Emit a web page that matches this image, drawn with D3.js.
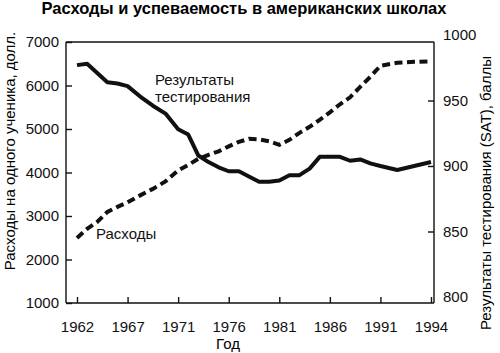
<!DOCTYPE html>
<html>
<head>
<meta charset="utf-8">
<script src="https://cdn.jsdelivr.net/npm/d3@7"></script>
<style>
	body { margin: 0; background: #fff; }
	svg { display: block; font-family: "Liberation Sans", Arial, sans-serif; }
	.axis text { font-size: 15px; fill: #111; }
	.axis path, .axis line { stroke: #111; stroke-width: 1.4; }
	.line { fill: none; stroke: #111; stroke-width: 4; stroke-linejoin: round; }
</style>
</head>
<body>
<div id="chart"></div>
<script>
// years and tick labels
const years = d3.range(1962, 1995);
const tickYears = [1962, 1967, 1971, 1976, 1981, 1986, 1991, 1994];

// spending per pupil, dollars (left axis)
const spending = [2496, 2703, 2864, 3094, 3209, 3313, 3474, 3623, 3796, 4050,
	4175, 4314, 4405, 4486, 4601, 4705, 4774, 4762, 4716, 4636,
	4751, 4912, 5050, 5211, 5384, 5568, 5729, 5970, 6200, 6453,
	6522, 6545, 6556];

// SAT scores (right axis)
const sat = [977, 978, 971, 964, 963, 961, 953, 946, 940, 928,
	924, 908, 903, 899, 896, 896, 892, 888, 888, 889,
	893, 893, 898, 907, 907, 907, 904, 905, 902, 900,
	897, 900, 903];

const leftTicks = [1000, 2000, 3000, 4000, 5000, 6000, 7000];
const rightTicks = [800, 850, 900, 950, 1000];

const width = 500, height = 353;
const plot = { left: 66, right: 434, top: 42, bottom: 303 };

const svg = d3.select('#chart').append('svg')
	.attr('width', width)
	.attr('height', height);

// ticks are evenly spaced on the original, whatever the year gap
const tickPos = d3.scalePoint().domain(tickYears).range([77, 431]);
const x = d3.scaleLinear()
	.domain(tickYears)
	.range(tickYears.map(d => tickPos(d)));

const yLeft = d3.scaleLinear().domain([1000, 7000]).range([plot.bottom, plot.top]);
const yRight = d3.scaleLinear().domain([800, 1000]).range([297, 35]);

// frame top
svg.append('line')
	.attr('x1', plot.left).attr('x2', plot.right)
	.attr('y1', plot.top).attr('y2', plot.top)
	.attr('stroke', '#111').attr('stroke-width', 1.4);

svg.append('g')
	.attr('class', 'axis x')
	.attr('transform', `translate(0, ${plot.bottom})`)
	.call(d3.axisBottom(x).tickValues(tickYears).tickFormat(d3.format('d')).tickSize(-6).tickPadding(18))
	.call(g => g.select('.domain').attr('d', `M${plot.left},0H${plot.right}`));

svg.append('g')
	.attr('class', 'axis yl')
	.attr('transform', `translate(${plot.left}, 0)`)
	.call(d3.axisLeft(yLeft).tickValues(leftTicks).tickFormat(d3.format('d')).tickSize(-6).tickPadding(7))
	.call(g => g.select('.domain').attr('d', `M0,${plot.top}V${plot.bottom}`));

svg.append('g')
	.attr('class', 'axis yr')
	.attr('transform', `translate(${plot.right}, 0)`)
	.call(d3.axisRight(yRight).tickValues(rightTicks).tickFormat(d3.format('d')).tickSize(-6).tickPadding(9))
	.call(g => g.select('.domain').attr('d', `M0,${plot.top}V${plot.bottom}`))
	.call(g => g.selectAll('.tick').filter(d => d === 800 || d === 1000).select('line').remove());

const lineLeft = d3.line()
	.x((d, i) => x(years[i]))
	.y(d => yLeft(d));
const lineRight = d3.line()
	.x((d, i) => x(years[i]))
	.y(d => yRight(d));

svg.append('path')
	.attr('class', 'line')
	.datum(sat)
	.attr('d', lineRight);

svg.append('path')
	.attr('class', 'line')
	.datum(spending)
	.attr('stroke-dasharray', '8 4.5')
	.style('stroke-linejoin', 'miter')
	.attr('d', lineLeft);

// series labels
const lab = svg.append('g').attr('font-size', 15).attr('fill', '#111');
lab.append('text').attr('x', 155).attr('y', 85).text('Результаты');
lab.append('text').attr('x', 155).attr('y', 102).text('тестирования');
lab.append('text').attr('x', 96).attr('y', 239).text('Расходы');

// titles
svg.append('text')
	.attr('x', 244).attr('y', 14)
	.attr('text-anchor', 'middle')
	.attr('font-size', 16.5).attr('font-weight', 'bold')
	.text('Расходы и успеваемость в американских школах');

svg.append('text')
	.attr('transform', 'translate(15, 151) rotate(-90)')
	.attr('text-anchor', 'middle')
	.attr('font-size', 15)
	.text('Расходы на одного ученика, долл.');

svg.append('text')
	.attr('transform', 'translate(491, 193) rotate(-90)')
	.attr('text-anchor', 'middle')
	.attr('font-size', 15)
	.text('Результаты тестирования (SAT), баллы');

svg.append('text')
	.attr('x', 228).attr('y', 349)
	.attr('text-anchor', 'middle')
	.attr('font-size', 15)
	.text('Год');
</script>
</body>
</html>
